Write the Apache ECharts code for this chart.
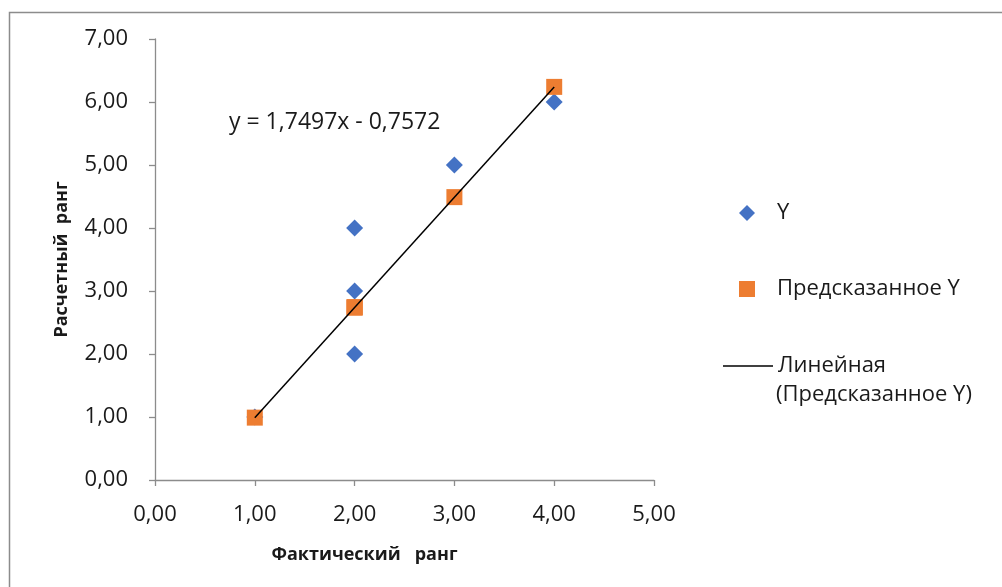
<!DOCTYPE html>
<html>
<head>
<meta charset="utf-8">
<script src="https://cdn.jsdelivr.net/npm/echarts@6/dist/echarts.min.js"></script>
<style>html,body{margin:0;padding:0;background:#fff;}#c{width:1002px;height:587px;}</style>
</head>
<body>
<div id="c"></div>
<script>
// Data
var xActual = [1, 2, 2, 2, 3, 4];
var yActual = [1, 2, 3, 4, 5, 6];
var yPredicted = [0.99, 2.74, 2.74, 2.74, 4.49, 6.24];
var trendX = [1, 4];
var trendY = [0.99, 6.24];
var equationText = 'y = 1,7497x - 0,7572';
var seriesNames = ['Y', 'Предсказанное Y', 'Линейная (Предсказанное Y)'];
var xTitle = 'Фактический   ранг';
var yTitle = 'Расчетный  ранг';

function zip(a, b) { return a.map(function (v, i) { return [v, b[i]]; }); }
function fmt(v) { return v.toFixed(2).replace('.', ','); }

var FONT = 'Open Sans';
var chart = echarts.init(document.getElementById('c'));
var axisGray = '#8c8c8c';
var txt = '#1a1a1a';
chart.setOption({
  animation: false,
  backgroundColor: '#fff',
  textStyle: { fontFamily: FONT },
  grid: { left: 155, right: 348, top: 39, bottom: 107, containLabel: false },
  xAxis: {
    type: 'value', min: 0, max: 5, interval: 1,
    name: xTitle, nameLocation: 'middle', nameGap: 66,
    nameTextStyle: { fontFamily: FONT, fontSize: 18, fontWeight: 'bold', color: txt, padding: [0, 80, 0, 0] },
    axisLine: { lineStyle: { color: axisGray, width: 1.3 } },
    axisTick: { show: true, inside: false, length: 6, lineStyle: { color: axisGray, width: 1.3 } },
    axisLabel: { margin: 24, fontSize: 22, color: txt, formatter: fmt },
    splitLine: { show: false }
  },
  yAxis: {
    type: 'value', min: 0, max: 7, interval: 1,
    name: yTitle, nameLocation: 'middle', nameGap: 84, nameRotate: 90,
    nameTextStyle: { fontFamily: FONT, fontSize: 18, fontWeight: 'bold', color: txt },
    axisLine: { show: true, lineStyle: { color: axisGray, width: 1.3 } },
    axisTick: { show: true, inside: false, length: 6, lineStyle: { color: axisGray, width: 1.3 } },
    axisLabel: { margin: 27, fontSize: 22, color: txt, formatter: fmt },
    splitLine: { show: false }
  },
  legend: [
    { data: [{ name: seriesNames[0], icon: 'diamond' }], orient: 'vertical', left: 734, top: 197, itemWidth: 16, itemHeight: 16, itemGap: 0,
      textStyle: { fontFamily: FONT, fontSize: 22, color: txt, padding: [0, 0, 0, 17] } },
    { data: [{ name: seriesNames[1], icon: 'rect' }], orient: 'vertical', left: 734, top: 273, itemWidth: 16, itemHeight: 16, itemGap: 0,
      textStyle: { fontFamily: FONT, fontSize: 22, color: txt, padding: [0, 0, 0, 17] } },
    { data: [{ name: seriesNames[2], icon: 'path://M0,0 L50,0 L50,1.5 L0,1.5 Z' }], orient: 'vertical', left: 718, top: 350, itemWidth: 50, itemHeight: 1.5, itemGap: 0,
      formatter: function () { return 'Линейная'; },
      textStyle: { fontFamily: FONT, fontSize: 22, color: txt, padding: [0, 0, 0, 0] } }
  ],
  graphic: [
    { type: 'rect', shape: { x: 9.5, y: 12.5, width: 1200, height: 800 }, style: { fill: 'none', stroke: '#8c8c8c', lineWidth: 1.5 }, silent: true, z: -1 },
    { type: 'text', left: 229, top: 111, style: { text: equationText, font: '23px ' + FONT, fill: txt } },
    { type: 'text', left: 776, top: 384, style: { text: '(Предсказанное Y)', font: '22px ' + FONT, fill: txt } }
  ],
  series: [
    { name: seriesNames[0], type: 'scatter', symbol: 'diamond', symbolSize: 17, data: zip(xActual, yActual),
      itemStyle: { color: '#4472C4', opacity: 1 }, z: 2 },
    { name: seriesNames[1], type: 'scatter', symbol: 'rect', symbolSize: 16, data: zip(xActual, yPredicted),
      itemStyle: { color: '#ED7D31', opacity: 1 }, z: 3 },
    { name: seriesNames[2], type: 'line', data: zip(trendX, trendY), symbol: 'none', showSymbol: false,
      itemStyle: { color: '#000' }, lineStyle: { color: '#000', width: 1.5 }, z: 4 }
  ]
});
</script>
</body>
</html>
